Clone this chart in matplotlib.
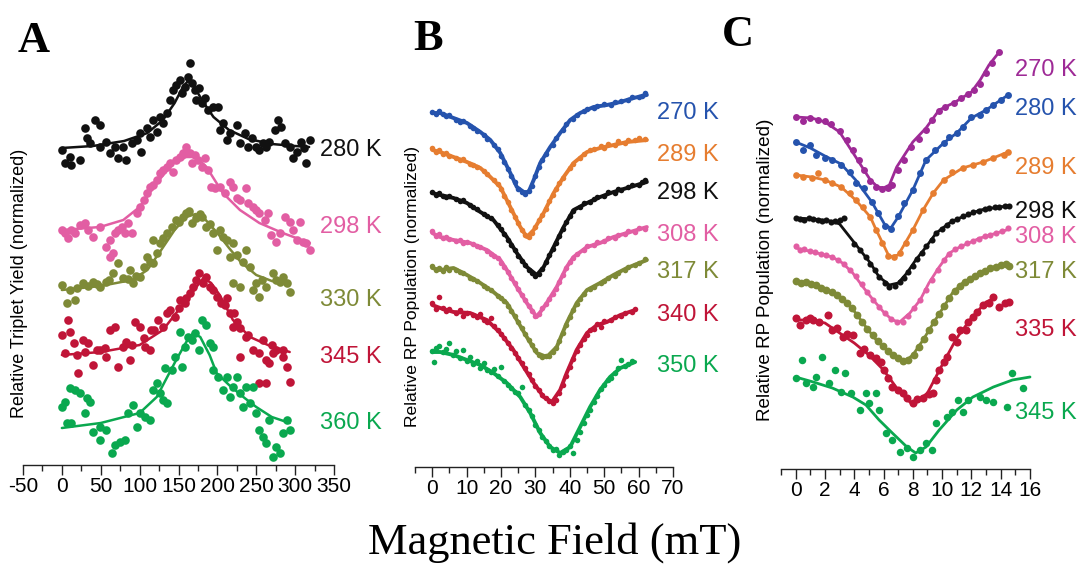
import matplotlib
matplotlib.use("Agg")
import matplotlib.pyplot as plt
import numpy as np

plt.rcParams['font.family'] = ['Liberation Sans', 'DejaVu Sans']
plt.rcParams['axes.unicode_minus'] = False

# ---------------- Panel A : Relative triplet yield (vertical positions in image rows) ----------
a_temps = ["280 K", "298 K", "330 K", "345 K", "360 K"]

a280_dx = [0,4,10,12,23,30,32,36,42,49,49,57,62,68,72,79,83,90,96,100,102,109,113,117,122,126,130,135,139,143,
           147,152,155,158,162,165,167,171,173,177,180,184,188,195,201,203,207,212,216,225,229,235,240,244,250,254,
           259,263,267,274,278,282,287,293,297,302,308,312,314,319]
a280_dy = [150,163,157,165,160,128,138,143,120,125,147,142,153,147,158,147,160,143,140,133,152,128,137,120,132,117,
           123,113,100,90,85,80,93,87,77,63,83,90,100,88,103,98,110,107,107,130,123,140,133,125,143,133,147,138,147,
           150,143,147,142,130,120,127,143,147,158,152,142,148,163,140]
a280_fx = [0,40,80,110,130,145,155,162,170,180,195,215,240,270,300,318]
a280_fy = [148,146,141,133,120,103,88,81,86,100,117,130,139,144,146,147]

a298_dx = [0,4,8,12,17,23,30,34,40,49,57,62,68,72,77,81,85,90,96,100,105,109,113,117,122,126,130,135,139,143,
           147,152,156,160,165,167,171,175,180,184,188,192,197,203,210,216,220,225,229,237,240,246,250,254,261,265,
           269,276,280,287,293,297,302,306,310,314,319,62,66]
a298_dy = [230,233,238,230,233,225,223,230,237,227,247,240,233,230,227,233,223,233,213,207,200,193,187,185,180,173,
           170,167,163,172,160,157,153,147,153,163,155,160,167,158,170,187,188,187,193,182,187,198,200,188,203,207,
           210,213,220,213,235,242,233,217,222,230,240,222,242,243,250,257,253]
a298_fx = [0,49,79,100,122,143,160,173,186,207,229,254,284,319]
a298_fy = [230,227,220,207,183,163,157,157,167,193,210,223,233,243]

a330_dx = [0,6,17,27,40,49,57,66,72,79,87,92,100,105,109,117,122,117,126,135,141,147,156,160,167,173,180,186,195,203,
           212,220,237,199,216,229,242,250,254,263,271,276,284,289,293,220,246,
           10,20,33,45,60,85,95,113,130,150,163,178,190,207,225,233,258,280]
a330_dy = [285,303,300,283,282,287,282,273,263,278,270,283,277,267,257,263,253,240,243,233,227,220,217,213,223,218,
           217,227,233,230,240,243,250,250,257,287,267,283,297,287,273,280,277,283,292,283,290,
           290,288,286,284,280,279,276,262,238,222,211,214,224,237,255,262,280,282]
a330_fx = [0,50,90,110,126,145,160,172,185,200,215,230,250,270,290]
a330_fy = [290,286,280,270,252,230,217,214,220,233,248,262,275,281,284]

a345_dx = [0,4,8,10,15,21,27,34,40,49,57,62,68,72,79,83,87,94,100,107,113,119,124,130,135,139,145,152,158,165,
           169,173,177,181,186,190,199,205,212,216,222,220,229,237,229,246,254,259,263,267,254,263,276,284,289,293,272,
           20,30,45,55,90,105,115,150,160,195,210,225,240,270,285]
a345_dy = [335,353,320,332,343,373,340,343,365,350,357,330,327,367,347,342,360,322,327,347,350,330,320,327,313,310,
           317,300,303,293,287,280,273,283,277,287,297,303,298,313,313,327,328,337,357,350,353,340,360,363,383,383,
           350,357,367,382,353,
           355,352,350,348,345,338,330,308,298,290,305,322,335,345,350]
a345_fx = [0,50,100,130,150,168,182,192,203,220,242,265,293]
a345_fy = [355,352,345,330,310,292,278,283,295,320,337,345,352]

a360_dx = [0,4,6,10,12,17,23,30,32,36,40,49,49,57,64,68,75,81,85,92,96,100,107,113,117,122,126,130,135,133,
           141,145,152,154,158,162,167,171,177,180,186,190,195,195,201,207,212,216,220,225,229,233,237,242,246,250,
           254,259,263,267,272,276,280,284,289,293]
a360_dy = [407,402,423,388,423,390,393,413,398,402,432,427,440,430,453,445,442,440,413,405,427,413,417,420,390,383,
           393,400,403,368,370,357,332,367,347,337,340,333,350,320,325,343,347,370,377,390,377,397,387,377,393,407,
           387,403,387,413,430,437,443,420,457,447,453,433,420,430]
a360_fx = [0,50,100,122,147,160,169,178,190,199,215,235,250,270,293]
a360_fy = [428,423,413,397,360,342,333,337,355,373,385,398,407,417,423]

# ---------------- Panel B : Relative RP population ----------------
b_temps = ["270 K", "289 K", "298 K", "308 K", "317 K", "340 K", "350 K"]

b270_fx = [0,2.3,6.2,10.1,14,16.9,19.8,22.7,24.6,26.6,28,29.5,31.4,34.3,37.2,40.1,43,46.9,50.8,54.7,58.5,62.4]
b270_fy = [113,113,118,123,132,140,153,173,187,192,192,180,163,147,133,120,113,107,105,102,98,95]
b270_dx = [0,1,2,3,4,5,7,8,9,11,12,13,15,16,18,19,20,21,22,23,24,25,26,27,28,29,30,31,32,33,35,36,38,39,41,42,44,45,
           47,48,50,52,53,55,57,58,60,61,62]
b270_dy = [112,114,111,114,116,115,120,122,121,126,128,131,135,139,145,149,156,162,169,176,182,189,192,194,191,186,
           176,167,160,154,145,138,130,124,119,115,111,109,108,106,104,105,102,101,100,97,97,96,93]

b289_fx = [0,2.3,6.2,10.1,14,16.9,19.8,22.7,25.6,27.5,29.5,32.4,35.3,38.2,41.1,45,48.8,52.7,56.6,62.4]
b289_fy = [150,152,157,162,168,177,187,207,227,237,230,213,193,177,163,152,148,145,142,140]
b289_dx = [0,1,2,3,4,5,7,8,9,11,12,13,15,16,18,19,20,21,22,23,24,25,26,27,28,29,30,31,32,33,34,35,36,37,38,40,41,
           43,44,46,47,49,50,51,53,54,56,57,59,60,62]
b289_dy = [148,152,150,154,153,156,158,160,159,164,165,167,171,174,180,184,189,196,202,210,217,223,230,235,237,233,
           227,220,215,209,201,195,189,183,178,168,164,158,154,150,149,146,148,144,145,141,143,140,140,138,139]

b298_fx = [0,2.3,6.2,10.1,14,17.8,21.7,24.6,27.5,30.4,32.4,35.3,38.2,41.1,45,48.8,52.7,56.6,62.4]
b298_fy = [193,195,198,203,212,220,237,253,267,275,267,247,227,210,203,197,192,188,182]
b298_dx = [0,1,2,3,4,5,7,8,9,11,12,13,15,16,17,19,20,21,22,23,24,25,26,27,28,29,30,31,32,33,34,35,36,37,38,39,40,
           41,43,44,46,47,48,50,51,53,54,55,57,58,60,61,62]
b298_dy = [192,195,193,196,197,196,199,201,200,205,207,209,214,216,218,225,229,234,240,245,250,256,261,265,270,273,
           276,274,269,262,255,249,243,236,229,222,216,211,207,203,202,199,197,196,192,193,189,190,187,185,185,182,180]

b308_fx = [0,2.3,6.2,11,15.9,19.8,21.7,24.6,27.5,30.4,33.3,36.2,39.1,41.1,45,48.8,52.7,56.6,62.4]
b308_fy = [233,237,240,243,250,260,270,287,303,317,303,287,267,257,247,243,237,233,227]
b308_dx = [0,1,2,3,4,5,7,8,9,10,12,13,14,16,17,18,19,20,21,22,23,24,25,26,27,28,29,30,31,32,33,34,35,36,37,38,39,
           40,41,42,44,45,47,48,50,51,53,54,56,57,59,60,62]
b308_dy = [231,236,234,238,237,239,241,240,243,242,244,246,247,251,254,256,258,263,267,272,278,283,289,295,300,306,
           311,316,314,308,304,299,294,289,282,275,268,262,258,254,250,246,245,242,241,238,238,235,234,231,232,228,229]

b317_fx = [0,2.3,6.2,10.1,14,17.8,21.7,24.6,27.5,30.4,33.3,36.2,39.1,42,45,48.8,52.7,56.6,62.4]
b317_fy = [268,270,268,275,283,292,303,320,337,353,357,347,323,303,290,283,275,268,260]
b317_dx = [0,1,2,3,4,5,7,8,9,11,12,13,15,16,17,19,20,21,22,23,24,25,26,27,28,29,30,31,32,33,34,35,36,37,38,39,40,
           41,42,43,44,46,47,49,50,51,53,54,56,57,59,60,62]
b317_dy = [266,270,268,271,267,270,270,272,273,278,279,281,286,288,290,296,298,301,306,311,316,322,328,334,340,345,
           350,355,357,356,356,352,348,341,333,325,317,310,304,299,294,289,287,283,281,278,276,273,270,267,265,263,259]

b340_fx = [0,2.3,6.2,11,15.9,19.8,23.6,26.6,29.5,32.4,34.8,37.2,39.1,42,45,47.9,50.8,54.7,59]
b340_fy = [305,308,312,313,320,333,350,367,383,397,402,390,373,350,333,325,322,315,310]
b340_dx = [0,1,2,3,4,5,7,8,9,10,12,13,14,15,16,17,18,19,20,21,22,23,24,25,26,27,28,29,30,31,32,33,34,35,36,37,38,
           39,40,41,42,43,44,45,46,47,48,49,50,52,53,55,56,58,59]
b340_dy = [303,309,297,308,311,309,313,310,316,313,315,317,314,320,322,318,326,330,334,338,343,348,353,358,363,368,
           374,380,386,390,395,398,401,403,400,393,385,376,367,359,351,345,339,335,330,329,324,327,321,320,317,316,
           313,312,309]

b350_fx = [0,2.3,6.2,10.1,14,17.8,21.7,25.6,28.5,31.4,34.3,37.2,40.1,43,45.9,48.8,51.7,54.7,59]
b350_fy = [352,352,355,360,365,373,383,397,413,433,447,453,447,427,407,390,377,368,362]
b350_dx = [0,0.5,1,2,3,4,5,6,7,8,9,10,11,12,13,14,15,16,17,18,19,20,21,22,23,24,25,26,27,28,29,30,31,32,33,34,35,
           36,37,38,39,40,41,42,43,44,45,46,47,48,49,50,51,52,53,54,55,56,57,58]
b350_dy = [351,362,348,346,352,349,343,355,351,358,350,361,357,364,361,368,363,370,372,369,376,367,381,385,388,392,
           393,387,405,410,416,425,430,437,441,446,450,449,455,452,450,446,453,440,432,423,415,410,402,396,389,385,
           380,378,373,368,360,366,364,361]

# ---------------- Panel C : Relative RP population ----------------
c_temps = ["270 K", "280 K", "289 K", "298 K", "308 K", "317 K", "335 K", "345 K"]

c270_fx = [0,1.1,2,3,4.1,5.1,5.6,6,6.4,6.9,8,8.9,9.8,10.9,12,12.6,13.2,13.9]
c270_fy = [117,118,122,132,157,180,187,188,185,167,142,128,110,102,92,80,65,52]
c270_dx = [0,0.5,1,1.5,2,2.4,3,3.5,3.9,4.3,4.7,5.1,5.5,5.9,6.3,6.6,7,7.4,7.9,8.4,8.9,9.3,9.8,10.2,10.8,11.3,11.8,
           12.2,12.6,13,13.4,13.9]
c270_dy = [117,121,118,120,121,124,131,140,150,160,170,181,187,189,188,185,170,160,147,139,130,120,111,107,103,98,94,
           90,84,73,63,52]

c280_fx = [0,1,2,3.1,4.1,5.2,6.1,6.5,7,8,8.9,10.1,11,12,13,14,14.5]
c280_fy = [142,148,156,164,180,202,225,228,217,190,160,143,133,118,110,100,95]
c280_dx = [0,0.5,1,1.4,2,2.5,3.1,3.7,4.1,4.7,5.2,5.6,6.1,6.5,7,7.4,8,8.5,8.9,9.5,10.1,10.5,11,11.4,12,12.6,13,13.5,
           14,14.5]
c280_dy = [142,150,145,155,158,160,165,172,183,188,202,213,226,229,216,203,190,173,160,150,143,137,133,127,117,115,
           110,105,100,95]

c289_fx = [0,1.1,2,3.1,4.1,5.1,5.5,6.4,7,8,8.7,9.4,10.1,11.4,12.8,14.5]
c289_fy = [175,177,180,187,200,217,230,257,255,230,210,193,180,168,162,152]
c289_dx = [0,0.5,1.1,1.5,2,2.5,3.1,3.7,4.1,4.6,5.1,5.5,5.9,6.3,6.7,7.1,7.5,8,8.7,9.4,10.1,10.7,11.4,12.1,12.8,13.5,
           14.2,14.5]
c289_dy = [175,177,178,173,180,183,187,193,200,207,217,230,243,256,257,253,243,230,210,193,180,172,168,165,162,158,
           155,152]

c298_fx = [0,1.2,2.4,3.0,3.7,4.4,5.1,5.7,6.4,7,7.6,8.2,8.9,9.6,10.5,11.2,12.6,13.9,14.5]
c298_fy = [218,219,221,224,237,250,263,277,285,283,273,260,247,233,223,218,210,207,206]
c298_dx = [0,0.3,0.6,0.9,1.2,1.5,1.8,2.1,2.4,2.7,3.0,3.3,4,4.4,4.8,5.1,5.4,5.7,6.1,6.4,6.8,7.1,7.4,7.7,8,8.3,8.6,
           8.9,9.3,9.6,10,10.3,10.7,11,11.4,11.8,12.1,12.5,12.9,13.2,13.6,13.9,14.3,14.6]
c298_dy = [218,219,220,218,219,220,221,220,222,221,220,218,244,250,257,264,270,277,283,287,286,282,278,272,266,259,
           253,246,240,233,229,225,221,219,216,214,212,211,209,208,207,207,206,206]

c308_fx = [0,1.2,2.5,3.2,3.9,4.6,5.3,6,6.6,7.1,7.8,8.5,9.1,9.8,10.5,11.2,12.6,14.4]
c308_fy = [248,252,257,263,273,287,300,312,320,322,313,300,283,267,253,247,238,230]
c308_dx = [0,0.3,0.6,1,1.3,1.7,2.1,2.5,2.9,3.3,3.7,4.1,4.5,4.9,5.3,5.7,6.1,6.5,6.9,7.3,7.7,8.1,8.5,8.9,9.3,9.7,10.1,
           10.5,10.9,11.3,11.7,12.1,12.5,12.9,13.3,13.7,14.1,14.5]
c308_dy = [246,250,249,251,252,254,255,257,260,264,270,276,284,292,300,307,313,319,322,322,316,308,300,290,280,270,
           260,254,249,246,243,241,239,236,235,233,231,228]

c317_fx = [0,0.7,1.4,2.1,2.8,3.5,4.1,4.8,5.5,6.2,6.9,7.4,8,8.7,9.4,10.1,10.7,11.4,12.1,12.8,13.5,14.2,14.5]
c317_fy = [282,282,285,290,295,303,313,327,340,350,358,362,355,340,323,307,293,283,277,272,267,265,265]
c317_dx = [0,0.35,0.7,1.05,1.4,1.75,2.1,2.45,2.8,3.15,3.5,3.85,4.2,4.55,4.9,5.25,5.6,5.95,6.3,6.65,7,7.35,7.7,8.05,
           8.4,8.75,9.1,9.45,9.8,10.15,10.5,10.85,11.2,11.55,11.9,12.25,12.6,12.95,13.3,13.65,14,14.35,14.6]
c317_dy = [281,283,282,284,285,288,290,292,295,299,303,308,315,322,329,335,341,346,351,355,358,361,360,355,347,339,
           330,322,314,306,298,291,286,282,279,276,273,271,268,267,265,264,266]

c335_fx = [0,1,2,3,4,5,6,7,8,9,10,11,12,13,13.6]
c335_fy = [320,320,323,333,343,355,370,390,405,393,365,338,318,302,298]
c335_dx = [0,0.3,0.7,1.0,1.2,1.6,2.2,2.5,2.8,3.2,3.5,3.9,4.4,4.7,5.1,5.5,5.8,6,6.3,6.6,7,7.3,7.6,8,8.3,8.7,9.1,9.4,
           9.6,9.8,10.1,10.3,10.7,11,11.2,11.6,11.8,12.1,12.4,12.8,13.2,13.5,13.9,14.3,14.6]
c335_dy = [318,325,320,318,320,322,315,330,328,337,334,335,353,349,355,358,362,370,378,387,390,393,398,403,399,398,
           394,393,380,370,362,357,337,342,330,330,322,317,312,305,303,297,307,303,302]

c345_fx = [0,1.2,2.5,3.9,4.8,5.7,6.6,7.6,8.2,8.9,9.8,11,12.1,13.5,14.8,16]
c345_fy = [377,382,388,397,405,420,433,447,453,447,430,410,397,387,380,377]
c345_dx = [0,0.4,0.7,1.2,1.4,1.8,2.3,2.7,3.1,3.4,3.8,4.4,4.8,5.5,5.7,5,6.2,6.6,7.1,7.6,8,8.5,8.9,9.3,9.6,10.3,10.7,
           11.1,11.4,11.8,12.6,13,13.5,14.4,14.8,15.5]
c345_dy = [378,360,383,387,377,357,383,370,392,373,393,410,393,393,410,403,433,440,452,448,457,450,443,450,423,417,
           412,400,412,400,397,400,402,407,373,388]

# ---------------- colours ----------------
BLACK, PINK, OLIVE, RED, GREEN = '#111111', '#e25ea3', '#7e8a37', '#c01538', '#0aa84f'
BLUE, ORANGE, PURPLE = '#2553ad', '#e67d30', '#9e2a96'

fig = plt.figure(figsize=(10.77, 5.65), dpi=100)
W, H = 1077.0, 565.0


def make_axes(left_px, right_px, axis_px, top_px, xlim):
    ax = fig.add_axes([left_px / W, 1 - axis_px / H, (right_px - left_px) / W, (axis_px - top_px) / H])
    ax.set_xlim(*xlim)
    ax.set_ylim(axis_px, top_px)
    for s in ('top', 'right', 'left'):
        ax.spines[s].set_visible(False)
    ax.spines['bottom'].set_color('#222222')
    ax.spines['bottom'].set_linewidth(1.0)
    ax.set_yticks([])
    ax.patch.set_alpha(0)
    ax.tick_params(axis='x', which='major', length=7, width=1.0, direction='out', labelsize=15, pad=2,
                   color='#222222')
    ax.tick_params(axis='x', which='minor', length=4, width=1.0, direction='out', color='#222222')
    return ax


def draw(ax, dx, dy, fx, fy, color, ms, lw):
    ax.plot(fx, fy, color=color, lw=lw, solid_capstyle='round', solid_joinstyle='round', clip_on=False, zorder=2)
    ax.plot(dx, dy, 'o', color=color, ms=ms, mew=0, clip_on=False, zorder=3)


# Panel A
axA = make_axes(23, 334, 465, 40, (-50, 350))
axA.set_xticks(np.arange(-50, 351, 50))
axA.set_xticks(np.arange(-25, 350, 50), minor=True)
a_series = [(a280_dx, a280_dy, a280_fx, a280_fy, BLACK), (a298_dx, a298_dy, a298_fx, a298_fy, PINK),
            (a330_dx, a330_dy, a330_fx, a330_fy, OLIVE), (a345_dx, a345_dy, a345_fx, a345_fy, RED),
            (a360_dx, a360_dy, a360_fx, a360_fy, GREEN)]
a_label_y = [150, 227, 300, 357, 423]
for (dx, dy, fx, fy, c), t, ly in zip(a_series, a_temps, a_label_y):
    draw(axA, dx, dy, fx, fy, c, 6.2, 1.8)
    axA.text(332, ly, t, color=c, fontsize=17, va='center', ha='left', clip_on=False)

# Panel B
axB = make_axes(415, 673, 467, 40, (-5, 70))
axB.set_xticks(np.arange(0, 71, 10))
axB.set_xticks(np.arange(-5, 70, 10), minor=True)
b_series = [(b270_dx, b270_dy, b270_fx, b270_fy, BLUE), (b289_dx, b289_dy, b289_fx, b289_fy, ORANGE),
            (b298_dx, b298_dy, b298_fx, b298_fy, BLACK), (b308_dx, b308_dy, b308_fx, b308_fy, PINK),
            (b317_dx, b317_dy, b317_fx, b317_fy, OLIVE), (b340_dx, b340_dy, b340_fx, b340_fy, RED),
            (b350_dx, b350_dy, b350_fx, b350_fy, GREEN)]
b_label_y = [113, 155, 193, 235, 272, 315, 366]
for (dx, dy, fx, fy, c), t, ly in zip(b_series, b_temps, b_label_y):
    draw(axB, dx, dy, fx, fy, c, 4.0, 2.8)
    axB.text(65.4, ly, t, color=c, fontsize=17, va='center', ha='left', clip_on=False)

# Panel C
axC = make_axes(781, 1030, 469, 40, (-1, 16))
axC.set_xticks(np.arange(0, 17, 2))
axC.set_xticks(np.arange(-1, 16, 2), minor=True)
c_series = [(c270_dx, c270_dy, c270_fx, c270_fy, PURPLE), (c280_dx, c280_dy, c280_fx, c280_fy, BLUE),
            (c289_dx, c289_dy, c289_fx, c289_fy, ORANGE), (c298_dx, c298_dy, c298_fx, c298_fy, BLACK),
            (c308_dx, c308_dy, c308_fx, c308_fy, PINK), (c317_dx, c317_dy, c317_fx, c317_fy, OLIVE),
            (c335_dx, c335_dy, c335_fx, c335_fy, RED), (c345_dx, c345_dy, c345_fx, c345_fy, GREEN)]
c_label_y = [70, 109, 168, 212, 237, 272, 330, 413]
c_ms = [5.0, 5.0, 4.8, 4.4, 4.4, 5.6, 5.8, 5.4]
for (dx, dy, fx, fy, c), t, ly, ms in zip(c_series, c_temps, c_label_y, c_ms):
    draw(axC, dx, dy, fx, fy, c, ms, 2.0)
    axC.text(14.95, ly, t, color=c, fontsize=17, va='center', ha='left', clip_on=False)

# y labels
fig.text(20 / W, 1 - 283 / H, "Relative Triplet Yield (normalized)", rotation=90, fontsize=13,
         ha='center', va='center')
fig.text(412 / W, 1 - 286 / H, "Relative RP Population (normalized)", rotation=90, fontsize=12.6,
         ha='center', va='center')
fig.text(766 / W, 1 - 270 / H, "Relative RP Population (normalized)", rotation=90, fontsize=13.6,
         ha='center', va='center')

# panel letters
serif = ['Liberation Serif', 'DejaVu Serif']
fig.text(18 / W, 1 - 52 / H, "A", fontsize=32, fontweight='bold', family=serif, ha='left', va='baseline')
fig.text(413 / W, 1 - 50 / H, "B", fontsize=32, fontweight='bold', family=serif, ha='left', va='baseline')
fig.text(722 / W, 1 - 46 / H, "C", fontsize=32, fontweight='bold', family=serif, ha='left', va='baseline')

# common x label
fig.text(555 / W, 1 - 554 / H, "Magnetic Field (mT)", fontsize=32, family=serif, ha='center', va='baseline')

fig.savefig("out.png", dpi=100, facecolor='white')
